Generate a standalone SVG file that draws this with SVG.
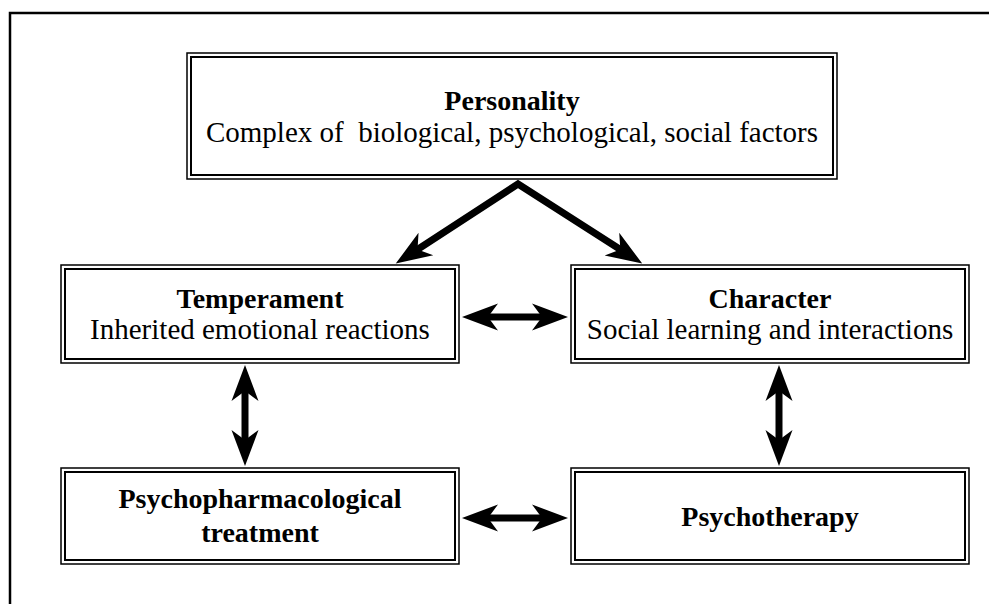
<svg xmlns="http://www.w3.org/2000/svg" width="989" height="604" viewBox="0 0 989 604">
  <style>
    .outer { fill: none; stroke: #000; stroke-width: 1.5; }
    .inner { fill: none; stroke: #000; stroke-width: 2; }
    .t { font-family: "Liberation Serif", "Times New Roman", serif; font-size: 29px; fill: #000; text-anchor: middle; white-space: pre; }
    .b { font-weight: bold; font-size: 28px; }
    .conn { fill: none; stroke: #000; stroke-width: 7; stroke-linejoin: miter; }
  </style>
  <defs>
    <marker id="head" markerUnits="userSpaceOnUse" markerWidth="60" markerHeight="40" viewBox="-20 -20 60 40" refX="0" refY="0" orient="auto-start-reverse" overflow="visible">
      <path d="M20,0 L-16,-13.5 L-6,0 L-16,13.5 Z" fill="#000"/>
    </marker>
  </defs>
  <rect x="0" y="0" width="989" height="604" fill="#fff"/>
  <path d="M10,604 V13 H989" fill="none" stroke="#000" stroke-width="2.5"/>

  <g id="personality">
    <rect class="outer" x="187" y="53" width="650" height="126"/>
    <rect class="inner" x="191" y="57" width="642" height="118"/>
    <text class="t b" x="512" y="110">Personality</text>
    <text class="t" x="512" y="142">Complex of  biological, psychological, social factors</text>
  </g>

  <g id="temperament">
    <rect class="outer" x="61" y="265" width="398" height="98"/>
    <rect class="inner" x="65" y="269" width="390" height="90"/>
    <text class="t b" x="260" y="308">Temperament</text>
    <text class="t" x="260" y="339">Inherited emotional reactions</text>
  </g>

  <g id="character">
    <rect class="outer" x="571" y="265" width="398" height="98"/>
    <rect class="inner" x="575" y="269" width="390" height="90"/>
    <text class="t b" x="770" y="308">Character</text>
    <text class="t" x="770" y="339">Social learning and interactions</text>
  </g>

  <g id="psychopharmacological">
    <rect class="outer" x="61" y="468" width="398" height="96"/>
    <rect class="inner" x="65" y="472" width="390" height="88"/>
    <text class="t b" x="260" y="508">Psychopharmacological</text>
    <text class="t b" x="260" y="542">treatment</text>
  </g>

  <g id="psychotherapy">
    <rect class="outer" x="571" y="468" width="398" height="96"/>
    <rect class="inner" x="575" y="472" width="390" height="88"/>
    <text class="t b" x="770" y="526">Psychotherapy</text>
  </g>

  <g id="connectors">
    <path class="conn" d="M412.5,252.7 L518,184 L625.4,252.8" marker-start="url(#head)" marker-end="url(#head)"/>
    <line class="conn" x1="482" y1="317" x2="548" y2="317" marker-start="url(#head)" marker-end="url(#head)"/>
    <line class="conn" x1="482" y1="518" x2="548" y2="518" marker-start="url(#head)" marker-end="url(#head)"/>
    <line class="conn" x1="245" y1="385" x2="245" y2="446" marker-start="url(#head)" marker-end="url(#head)"/>
    <line class="conn" x1="779" y1="385" x2="779" y2="446" marker-start="url(#head)" marker-end="url(#head)"/>
  </g>
</svg>
